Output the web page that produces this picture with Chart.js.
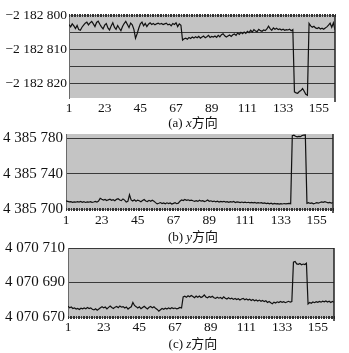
<!DOCTYPE html>
<html>
<head>
<meta charset="utf-8">
<title>x y z 方向</title>
<script src="https://cdn.jsdelivr.net/npm/chart.js"></script>
<style>
  body { margin: 0; background: #fff; }
  #wrap { position: relative; width: 349px; height: 353px; }
  canvas { position: absolute; left: 0; top: 0; }
  .cap { position: absolute; left: 0; width: 386px; text-align: center; line-height: 14px;
         font-size: 13px; font-family: "Liberation Serif", "Noto Sans CJK SC", serif; color: #111; }
</style>
</head>
<body>
<div id="wrap">
  <canvas id="chartA" width="349" height="353"></canvas>
  <canvas id="chartB" width="349" height="353"></canvas>
  <canvas id="chartC" width="349" height="353"></canvas>
  <div class="cap" style="top:116px">(a) <i>x</i>方向</div>
  <div class="cap" style="top:230px">(b) <i>y</i>方向</div>
  <div class="cap" style="top:337px">(c) <i>z</i>方向</div>
</div>
<script>
// sample index ticks shown under each panel
const xTicks = [1, 23, 45, 67, 89, 111, 133, 155];

// labelled values on the y axes
const xDirTicks = [-2182800, -2182810, -2182820];
const yDirTicks = [4385700, 4385740, 4385780];
const zDirTicks = [4070670, 4070690, 4070710];

// (a) x direction
const xDir = [
  -2182802.8, -2182803.5, -2182802.6, -2182803.2, -2182804.0, -2182803.1, -2182804.3, -2182804.5, -2182803.6, -2182803.0,
  -2182802.4, -2182802.1, -2182802.9, -2182802.3, -2182801.9, -2182802.6, -2182803.4, -2182802.2, -2182801.8, -2182802.7,
  -2182803.5, -2182804.1, -2182803.0, -2182802.5, -2182803.8, -2182804.4, -2182803.2, -2182802.3, -2182803.6, -2182804.2,
  -2182803.1, -2182803.9, -2182804.6, -2182803.4, -2182802.5, -2182801.9, -2182802.8, -2182803.7, -2182802.4, -2182802.9,
  -2182804.2, -2182806.8, -2182805.5, -2182803.9, -2182802.6, -2182802.1, -2182803.2, -2182802.5, -2182803.4, -2182802.7,
  -2182802.3, -2182802.8, -2182802.5, -2182802.9, -2182802.6, -2182802.4, -2182802.7, -2182802.5, -2182802.8, -2182802.6,
  -2182802.4, -2182802.9, -2182802.7, -2182803.2, -2182802.5, -2182802.8, -2182802.3, -2182803.4, -2182802.6, -2182803.0,
  -2182807.4, -2182807.0, -2182806.8, -2182807.1, -2182806.6, -2182806.9, -2182806.5, -2182806.8, -2182806.4, -2182806.7,
  -2182806.3, -2182806.8, -2182806.5, -2182806.2, -2182806.7, -2182806.4, -2182806.0, -2182806.6, -2182806.3, -2182806.5,
  -2182806.2, -2182806.6, -2182806.0, -2182806.4, -2182805.8, -2182805.5, -2182806.1, -2182806.5, -2182806.2, -2182805.9,
  -2182806.3, -2182805.8, -2182805.6, -2182806.0, -2182805.3, -2182805.7, -2182805.1, -2182805.5, -2182805.0, -2182805.4,
  -2182804.8, -2182805.2, -2182804.5, -2182805.0, -2182804.3, -2182804.7, -2182804.9, -2182804.2, -2182804.6, -2182804.8,
  -2182804.4, -2182804.6, -2182804.1, -2182803.3, -2182804.0, -2182804.5, -2182803.8, -2182804.2, -2182803.9, -2182804.3,
  -2182804.1, -2182804.4, -2182804.2, -2182804.5, -2182804.3, -2182804.4, -2182804.2, -2182804.6, -2182804.3,
  -2182822.6, -2182822.9, -2182823.0, -2182822.5, -2182822.2, -2182821.6, -2182822.4, -2182823.3, -2182823.6,
  -2182802.5, -2182803.2, -2182803.6, -2182803.3, -2182803.8, -2182804.0, -2182803.7, -2182804.1, -2182803.9,
  -2182804.2, -2182803.8, -2182803.5, -2182803.0, -2182802.4, -2182803.6, -2182802.3, -2182804.4
];

// (b) y direction
const yDir = [
  4385709.2, 4385708.6, 4385708.0, 4385708.4, 4385707.5, 4385708.1, 4385707.7, 4385708.3, 4385707.9, 4385708.5,
  4385707.6, 4385708.2, 4385707.4, 4385708.0, 4385707.7, 4385708.3, 4385707.5, 4385707.9, 4385708.6, 4385707.8,
  4385709.1, 4385712.2, 4385711.0, 4385710.2, 4385710.8, 4385709.6, 4385710.4, 4385711.1, 4385709.8, 4385710.5,
  4385709.4, 4385710.9, 4385711.6, 4385710.2, 4385709.5, 4385711.4, 4385710.1, 4385707.9, 4385708.6, 4385716.2,
  4385710.3, 4385709.0, 4385710.4, 4385708.8, 4385710.1, 4385709.3, 4385708.2, 4385709.6, 4385710.7, 4385709.1,
  4385708.4, 4385709.8, 4385708.7, 4385710.0, 4385708.9, 4385707.2, 4385705.8, 4385706.5, 4385707.3, 4385706.1,
  4385706.8, 4385705.9, 4385707.0, 4385706.2, 4385706.9, 4385705.7, 4385706.4, 4385707.1, 4385706.0, 4385706.6,
  4385708.9, 4385710.3, 4385709.6, 4385710.8, 4385709.9, 4385710.4, 4385709.5, 4385710.1, 4385709.3, 4385708.7,
  4385709.4, 4385708.6, 4385710.0, 4385708.9, 4385709.5, 4385708.4, 4385709.1, 4385710.2, 4385708.8, 4385709.3,
  4385708.5, 4385709.0, 4385708.2, 4385708.8, 4385707.9, 4385708.6, 4385708.1, 4385708.7, 4385707.8, 4385708.4,
  4385707.6, 4385708.3, 4385707.9, 4385708.5, 4385707.4, 4385708.0, 4385707.7, 4385707.2, 4385707.9, 4385707.3,
  4385707.8, 4385707.1, 4385707.6, 4385706.9, 4385707.5, 4385707.0, 4385707.4, 4385706.6, 4385707.2, 4385706.8,
  4385707.1, 4385706.4, 4385706.9, 4385706.2, 4385706.7, 4385705.8, 4385706.5, 4385705.6, 4385706.3, 4385705.9,
  4385706.1, 4385705.5, 4385706.0, 4385705.7, 4385706.2, 4385705.8, 4385706.1, 4385706.4, 4385706.0,
  4385783.1, 4385783.6, 4385782.4, 4385781.8, 4385782.2, 4385782.0, 4385783.3, 4385783.8, 4385784.0,
  4385706.4, 4385707.1, 4385706.3, 4385706.8, 4385705.9, 4385706.5, 4385707.2, 4385706.6, 4385707.4,
  4385708.0, 4385707.5, 4385708.3, 4385707.6, 4385706.9, 4385707.4, 4385706.7, 4385707.2
];

// (c) z direction
const zDir = [
  4070676.2, 4070675.4, 4070675.8, 4070674.9, 4070675.3, 4070674.6, 4070675.0, 4070674.4, 4070675.1, 4070674.7,
  4070675.2, 4070674.8, 4070675.5, 4070674.9, 4070675.3, 4070674.5, 4070674.1, 4070674.8, 4070673.9, 4070674.6,
  4070675.4, 4070676.0, 4070675.3, 4070675.8, 4070674.7, 4070675.6, 4070676.3, 4070675.5, 4070674.9, 4070675.7,
  4070676.1, 4070675.4, 4070676.4, 4070675.7, 4070676.0, 4070675.2, 4070675.8, 4070674.6, 4070675.3, 4070675.9,
  4070678.4, 4070676.7, 4070676.0, 4070675.2, 4070675.9, 4070674.8, 4070675.5, 4070676.2, 4070675.4, 4070674.7,
  4070675.6, 4070676.1, 4070675.3, 4070675.9, 4070675.0, 4070674.4, 4070673.4, 4070674.2, 4070674.9, 4070674.5,
  4070675.1, 4070674.6, 4070675.3, 4070674.8, 4070675.4, 4070674.9, 4070675.2, 4070674.7, 4070675.0, 4070675.5,
  4070675.2,
  4070681.6, 4070682.0, 4070681.4, 4070682.3, 4070681.7, 4070682.5, 4070681.9, 4070681.2, 4070682.1,
  4070681.5, 4070682.2, 4070681.3, 4070681.8, 4070682.8, 4070681.6, 4070681.1, 4070681.9, 4070681.4, 4070682.0,
  4070681.2, 4070680.8, 4070681.5, 4070680.9, 4070681.3, 4070680.6, 4070681.7, 4070680.9, 4070680.4, 4070681.1,
  4070680.5, 4070680.9, 4070680.2, 4070680.7, 4070680.1, 4070680.6, 4070679.9, 4070680.4, 4070680.8, 4070680.0,
  4070680.5, 4070679.8, 4070680.3, 4070679.6, 4070680.1, 4070679.4, 4070679.9, 4070679.3, 4070679.8, 4070679.1,
  4070679.6, 4070678.9, 4070679.4, 4070678.4, 4070679.0, 4070678.3, 4070677.7, 4070678.6, 4070678.1, 4070678.8,
  4070678.4, 4070679.0, 4070678.5, 4070678.9, 4070678.3, 4070678.7, 4070679.1, 4070678.6, 4070679.0,
  4070701.8, 4070702.2, 4070700.8, 4070700.5, 4070701.0, 4070700.3, 4070700.7, 4070700.4, 4070701.2,
  4070677.6, 4070678.4, 4070678.0, 4070678.7, 4070678.3, 4070678.9, 4070678.5, 4070679.0, 4070678.6,
  4070679.2, 4070678.8, 4070679.3, 4070678.7, 4070679.1, 4070678.4, 4070679.0, 4070678.6
];

const idx = xDir.map((v, i) => i + 1);

function fmt(v) {
  const s = Math.abs(Math.round(v)).toString().replace(/\B(?=(\d{3})+(?!\d))/g, ' ');
  return (v < 0 ? '\u2212' : '') + s;
}

// grey plot face, category tick row along the axis line, dark right edge
const frame = {
  id: 'frame',
  beforeDraw(chart, args, o) {
    const a = chart.chartArea, ctx = chart.ctx;
    ctx.save();
    ctx.fillStyle = '#c4c4c4';
    ctx.fillRect(a.left, a.top, a.right - a.left, a.bottom - a.top);
    ctx.restore();
  },
  afterDraw(chart, args, o) {
    const a = chart.chartArea, ctx = chart.ctx, xs = chart.scales.x;
    const yAx = o.axisTop ? a.top : a.bottom;
    ctx.save();
    ctx.strokeStyle = '#8a8a8a';
    ctx.lineWidth = 1;
    ctx.beginPath();
    ctx.moveTo(a.left, yAx + 0.5);
    ctx.lineTo(a.right, yAx + 0.5);
    ctx.stroke();
    ctx.strokeStyle = '#333';
    ctx.beginPath();
    idx.forEach(i => {
      const px = Math.round(xs.getPixelForValue(i)) + 0.5;
      ctx.moveTo(px, yAx - 1);
      ctx.lineTo(px, yAx + 2);
    });
    ctx.stroke();
    ctx.strokeStyle = '#222';
    ctx.lineWidth = 1.5;
    ctx.beginPath();
    ctx.moveTo(a.right, a.top);
    ctx.lineTo(a.right, a.bottom + 4);
    ctx.stroke();
    ctx.restore();
  }
};

function makePanel(id, values, p) {
  return new Chart(document.getElementById(id), {
    type: 'line',
    data: {
      labels: idx,
      datasets: [{
        data: values,
        borderColor: '#111',
        borderWidth: 1.2,
        pointRadius: 0,
        tension: 0,
        fill: false
      }]
    },
    options: {
      responsive: false,
      animation: false,
      events: [],
      layout: { padding: { left: 0, right: p.right, top: p.top, bottom: p.bottom } },
      plugins: { legend: { display: false }, tooltip: { enabled: false }, frame: { axisTop: p.axisTop } },
      scales: {
        x: {
          type: 'linear',
          min: 1,
          max: 165,
          afterBuildTicks: s => { s.ticks = xTicks.map(v => ({ value: v })); },
          afterFit: s => { s.height = 18; },
          grid: { display: false, drawTicks: false },
          border: { display: false },
          ticks: {
            autoSkip: false,
            maxRotation: 0,
            padding: p.xPad,
            color: '#111',
            font: { family: 'Liberation Serif', size: 13.5 }
          }
        },
        y: {
          min: p.min,
          max: p.max,
          afterFit: s => { s.width = p.left; },
          grid: { color: '#3a3a3a', lineWidth: 1, drawTicks: false },
          border: { display: true, color: '#6a6a6a', width: 1 },
          ticks: {
            stepSize: p.step,
            includeBounds: false,
            padding: p.yPad,
            color: '#111',
            font: { family: 'Liberation Serif', size: p.font },
            callback: v => p.labels.includes(v) ? fmt(v) : ''
          }
        }
      }
    },
    plugins: [frame]
  });
}

makePanel('chartA', xDir, {
  min: -2182824.4, max: -2182800, step: 5, labels: xDirTicks,
  left: 69, right: 14, top: 15, bottom: 237, axisTop: true, font: 13.5, xPad: 2, yPad: 2
});
makePanel('chartB', yDir, {
  min: 4385700, max: 4385785, step: 20, labels: yDirTicks,
  left: 66, right: 16, top: 134, bottom: 126, axisTop: false, font: 15, xPad: 3, yPad: 3
});
makePanel('chartC', zDir, {
  min: 4070670, max: 4070710, step: 10, labels: zDirTicks,
  left: 68, right: 15, top: 248, bottom: 18, axisTop: false, font: 15, xPad: 2, yPad: 3
});
</script>
</body>
</html>
